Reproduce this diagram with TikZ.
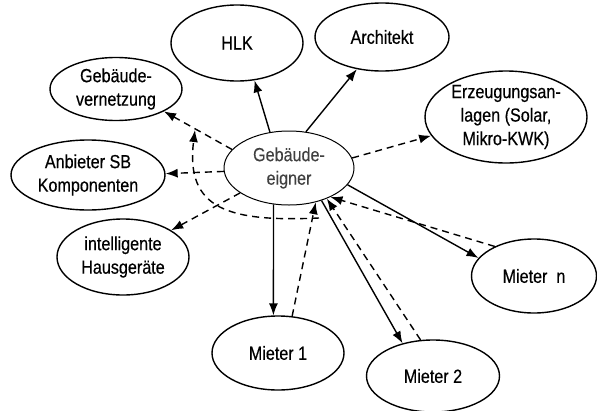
\documentclass[tikz,border=0pt]{standalone}
\usepackage{fontspec}
\setmainfont[FakeStretch=0.85,FakeBold=0.4]{Liberation Sans}
\newfontfamily\thinfont[FakeStretch=0.85,FakeBold=0.15]{Liberation Sans}
\usetikzlibrary{arrows.meta,shapes.geometric}
\begin{document}
\begin{tikzpicture}[x=1pt,y=-1pt,
  box/.style={draw,ellipse,line width=1.4pt,inner sep=0pt},
  txt/.style={font=\fontsize{19}{23.5}\selectfont,align=center,inner sep=0pt},
  sol/.style={line width=1.4pt,-{Latex[length=12pt,width=9pt]}},
  dsh/.style={sol,dash pattern=on 7pt off 5pt}]
\useasboundingbox (0,0) rectangle (597,410);
\fill[white] (0,0) rectangle (597,410);
% nodes
\node[box,minimum width=132pt,minimum height=76pt,label={[txt]center:HLK}] (hlk) at (237,43) {};
\node[box,minimum width=134pt,minimum height=68pt,label={[txt]center:Architekt}] (arch) at (382,37) {};
\node[box,minimum width=162pt,minimum height=92pt,label={[txt]center:Erzeugungsan-\\lagen (Solar,\\Mikro-KWK)}] (erz) at (506,117) {};
\node[box,minimum width=132pt,minimum height=63pt,label={[txt]center:Gebäude-\\vernetzung}] (vern) at (116,89) {};
\node[box,minimum width=154pt,minimum height=70pt,label={[txt]center:Anbieter SB\\Komponenten}] (anb) at (88,175) {};
\node[box,minimum width=132pt,minimum height=76pt,label={[txt]center:intelligente\\Hausgeräte}] (haus) at (123,257) {};
\node[box,line width=1pt,minimum width=130pt,minimum height=74pt,label={[txt,text=black!75,font=\thinfont\fontsize{19}{23.5}\selectfont]center:Gebäude-\\eigner}] (eig) at (289,168) {};
\node[box,minimum width=132pt,minimum height=74pt,label={[txt]center:Mieter 1}] (m1) at (278,353) {};
\node[box,minimum width=133pt,minimum height=72pt,label={[txt]center:Mieter 2}] (m2) at (433,376) {};
\node[box,minimum width=125pt,minimum height=74pt,label={[txt]center:Mieter~~n}] (mn) at (534,276) {};
% connectors
\draw[sol] (eig.118) -- (hlk.295);
\draw[sol] (eig.65) -- (arch.232);
\draw[dsh] (eig.9) -- (erz.194);
\draw[dsh] (eig.162) -- (vern.335);
\draw[dsh] (eig.183) -- (anb.1);
\draw[dsh] (eig.207) -- (haus.29);
\draw[sol] (eig.247) -- (m1.97);
\draw[dsh] (m1.69) -- (eig.308);
\draw[sol] (eig.315) -- (m2.133);
\draw[dsh] (m2.109) -- (eig.321);
\draw[sol] (eig.344.6) -- (mn.162.5);
\draw[dsh] (mn.143) -- (eig.325);
\coordinate (arcS) at (319,218);
\coordinate (arcE) at (195,130);
\draw[dsh] (arcS) .. controls (230,222) and (185,210) .. (arcE);
\end{tikzpicture}
\end{document}
